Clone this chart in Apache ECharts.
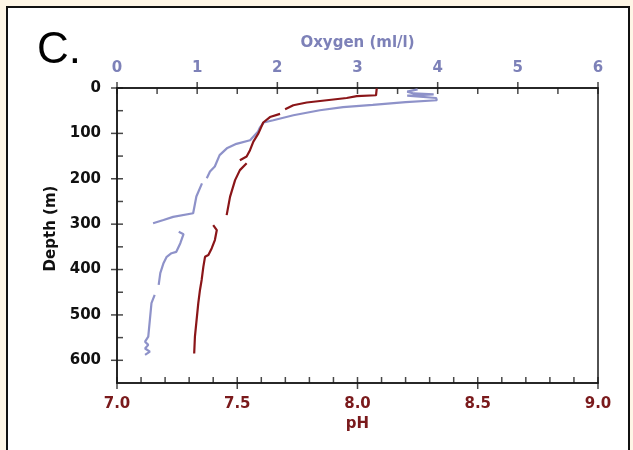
<!DOCTYPE html>
<html><head><meta charset="utf-8">
<script src="https://cdn.jsdelivr.net/npm/echarts@6/dist/echarts.min.js"></script>
<style>html,body{margin:0;padding:0;background:#fef6e6}#c{width:633px;height:450px}</style>
</head><body><div id="c"></div><script>
// Oxygen profile (ml/l) vs depth (m); null = gap in the trace
const oxygenValues = [3.75,3.62,3.70,3.95,3.62,3.98,3.99,3.60,3.19,2.82,2.53,2.20,1.95,1.83,1.78,1.76,1.66,1.49,1.37,1.28,1.22,1.16,1.12,null,1.06,0.99,0.95,0.93,0.70,0.58,0.45,null,0.77,0.83,0.79,0.74,0.68,0.62,0.58,0.54,0.52,null,0.47,0.43,0.41,0.39,0.35,0.39,0.35,0.41,0.35];
const oxygenDepths = [3,8,12,14,17,22,27,31,37,42,49,60,71,76,88,96,115,123,133,148,173,184,199,204,210,239,276,280,284,291,298,308,317,322,342,361,364,372,386,408,434,445,456,474,511,548,559,566,574,581,588];
// pH profile vs depth (m)
const phValues = [8.08,8.077,7.997,7.955,7.872,7.789,7.733,7.699,null,7.678,7.636,7.608,7.588,7.567,7.553,7.539,7.511,null,7.539,7.511,7.491,7.470,7.456,null,7.400,7.415,7.407,7.394,7.380,7.366,7.359,7.352,7.345,7.338,7.331,7.324,7.321];
const phDepths = [1,16,18,22,27,32,38,47,52,57,64,76,100,118,137,151,159,162,166,181,203,240,280,291,302,313,335,353,368,372,394,423,445,474,511,548,585];

const oxygenTicks = [0,1,2,3,4,5,6];
const oxygenMinorTicks = [0.5,1.5,2.5,3.5,4.5,5.5];
const phTicks = [7.0,7.5,8.0,8.5,9.0];
const phMinorTicks = [7.1,7.2,7.3,7.4,7.6,7.7,7.8,7.9,8.1,8.2,8.3,8.4,8.6,8.7,8.8,8.9];
const depthTicks = [0,100,200,300,400,500,600];
const depthMinorTicks = [50,150,250,350,450,550];

const F = 'DejaVu Sans';
const RED = '#7a1a1c', BLUE = '#7d81b8', INK = '#1a1a1a';
const RED_LINE = '#8a1518', BLUE_LINE = '#8e92c9';
const DEPTH_MAX = 650;

function zip(vals, deps){ return vals.map((v,i)=> [v, deps[i]]); }
function ls(){ return {color: INK, width: 1.5}; }
function tickSeries(xIdx, data, size, offset){
  return {type:'scatter', xAxisIndex:xIdx, yAxisIndex:0, data, symbol:'rect', symbolSize:size, symbolOffset:offset,
          itemStyle:{color:INK}, clip:false, silent:true, emphasis:{disabled:true}, z:5, animation:false};
}

const chart = echarts.init(document.getElementById('c'), null, {renderer:'canvas'});
chart.setOption({
  backgroundColor: '#fef6e6',
  animation: false,
  graphic: {elements: [{type:'rect', z:-10, shape:{x:7,y:7,width:622,height:460}, style:{fill:'#ffffff', stroke:'#111', lineWidth:2}, silent:true}]},
  title: {text:'C.', left:37, top:29, padding:0, textStyle:{fontSize:44, fontWeight:'normal', fontFamily:'Liberation Sans', color:'#000'}},
  grid: {left:117, right:35, top:88, bottom:67, show:true, borderColor:INK, borderWidth:1.5},
  xAxis: [
    {type:'value', position:'bottom', min:7, max:9,
     name:'pH', nameLocation:'middle', nameGap:34,
     nameTextStyle:{color:RED, fontFamily:F, fontWeight:'bold', fontSize:15},
     axisLine:{onZero:false, lineStyle:ls()}, splitLine:{show:false}, axisTick:{show:false},
     axisLabel:{customValues:phTicks, formatter:v=>v.toFixed(1), color:RED, fontFamily:F, fontWeight:'bold', fontSize:15, margin:14}},
    {type:'value', position:'top', min:0, max:6,
     name:'Oxygen (ml/l)', nameLocation:'middle', nameGap:37,
     nameTextStyle:{color:BLUE, fontFamily:F, fontWeight:'bold', fontSize:15},
     axisLine:{onZero:false, lineStyle:ls()}, splitLine:{show:false}, axisTick:{show:false},
     axisLabel:{customValues:oxygenTicks, color:BLUE, fontFamily:F, fontWeight:'bold', fontSize:15, margin:12}}
  ],
  yAxis: [
    {type:'value', position:'left', inverse:true, min:0, max:DEPTH_MAX,
     name:'Depth (m)', nameLocation:'middle', nameGap:58, nameRotate:90,
     nameTextStyle:{color:'#111', fontFamily:F, fontWeight:'bold', fontSize:15, padding:[0,0,0,14]},
     axisLine:{onZero:false, lineStyle:ls()}, splitLine:{show:false}, axisTick:{show:false},
     axisLabel:{customValues:depthTicks, color:'#111', fontFamily:F, fontWeight:'bold', fontSize:15, margin:16}}
  ],
  series: [
    {name:'Oxygen', type:'line', xAxisIndex:1, yAxisIndex:0, data:zip(oxygenValues, oxygenDepths),
     showSymbol:false, connectNulls:false, lineStyle:{color:BLUE_LINE, width:2.2}, itemStyle:{color:BLUE_LINE}},
    {name:'pH', type:'line', xAxisIndex:0, yAxisIndex:0, data:zip(phValues, phDepths),
     showSymbol:false, connectNulls:false, lineStyle:{color:RED_LINE, width:2.2}, itemStyle:{color:RED_LINE}},
    // axis tick marks, placed through the axes' own scales
    tickSeries(1, oxygenTicks.map(v=>[v,0]), [1.5,12], [0,0]),
    tickSeries(1, oxygenMinorTicks.map(v=>[v,0]), [1.5,6], [0,3]),
    tickSeries(0, phTicks.map(v=>[v,DEPTH_MAX]), [1.5,12], [0,0]),
    tickSeries(0, phMinorTicks.map(v=>[v,DEPTH_MAX]), [1.5,6], [0,-3]),
    tickSeries(1, depthTicks.map(d=>[0,d]), [12,1.5], [0,0]),
    tickSeries(1, depthMinorTicks.map(d=>[0,d]), [6,1.5], [3,0])
  ]
});
</script></body></html>
